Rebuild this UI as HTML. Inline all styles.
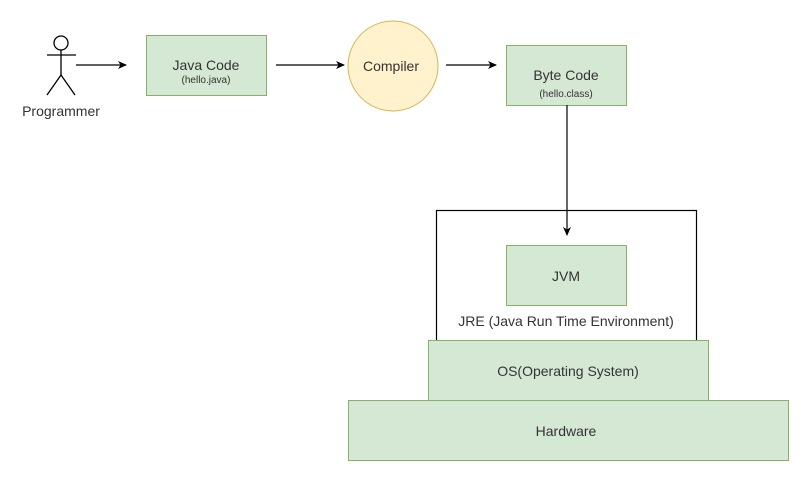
<!DOCTYPE html>
<html><head><meta charset="utf-8"><style>
html,body{margin:0;padding:0;background:#fff;width:809px;height:481px;overflow:hidden}
svg text{font-family:"Liberation Sans",Arial,sans-serif;fill:#333}
</style></head><body>
<svg width="809" height="481" viewBox="0 0 809 481" xmlns="http://www.w3.org/2000/svg">
<defs><marker id="a" markerWidth="10" markerHeight="10" refX="8" refY="4" orient="auto" markerUnits="userSpaceOnUse"><path d="M0,0 L9,4 L0,8 L2.5,4 z" fill="#000"/></marker></defs>
<!-- actor -->
<g stroke="#000" stroke-width="1.3" fill="none">
<circle cx="61" cy="43" r="7" fill="#fff"/>
<line x1="61" y1="50" x2="61" y2="75"/>
<line x1="47" y1="55" x2="76" y2="55"/>
<line x1="61" y1="75" x2="47" y2="95"/>
<line x1="61" y1="75" x2="75" y2="95"/>
</g>
<text x="61" y="116" font-size="14" text-anchor="middle">Programmer</text>
<!-- java code -->
<rect x="146.5" y="35.5" width="120" height="60" fill="#d5e8d4" stroke="#82b366"/>
<text x="206" y="70" font-size="14" text-anchor="middle">Java Code</text>
<text x="206" y="83" font-size="10" text-anchor="middle">(hello.java)</text>
<!-- compiler -->
<circle cx="393" cy="66" r="45" fill="#fff2cc" stroke="#d6b656"/>
<text x="391" y="71" font-size="14" text-anchor="middle">Compiler</text>
<!-- byte code -->
<rect x="506.5" y="45.5" width="120" height="60" fill="#d5e8d4" stroke="#82b366"/>
<text x="566" y="80" font-size="14" text-anchor="middle">Byte Code</text>
<text x="566" y="97" font-size="10" text-anchor="middle">(hello.class)</text>
<!-- JRE -->
<rect x="436.5" y="210.5" width="260" height="140" fill="#fff" stroke="#000" stroke-width="1.2"/>
<rect x="506.5" y="245.5" width="120" height="60" fill="#d5e8d4" stroke="#82b366"/>
<text x="566" y="281" font-size="14" text-anchor="middle">JVM</text>
<text x="566" y="326" font-size="14" text-anchor="middle">JRE (Java Run Time Environment)</text>
<rect x="428.5" y="340.5" width="280" height="60" fill="#d5e8d4" stroke="#82b366"/>
<text x="568" y="376" font-size="14" text-anchor="middle">OS(Operating System)</text>
<rect x="348.5" y="400.5" width="440" height="60" fill="#d5e8d4" stroke="#82b366"/>
<text x="566" y="436" font-size="14" text-anchor="middle">Hardware</text>
<!-- arrows -->
<g stroke="#000" stroke-width="1.2">
<line x1="76" y1="65" x2="126" y2="65" marker-end="url(#a)"/>
<line x1="276" y1="65" x2="344" y2="65" marker-end="url(#a)"/>
<line x1="446" y1="65" x2="496" y2="65" marker-end="url(#a)"/>
<line x1="567" y1="105" x2="567" y2="235" marker-end="url(#a)"/>
</g>
</svg>
</body></html>
